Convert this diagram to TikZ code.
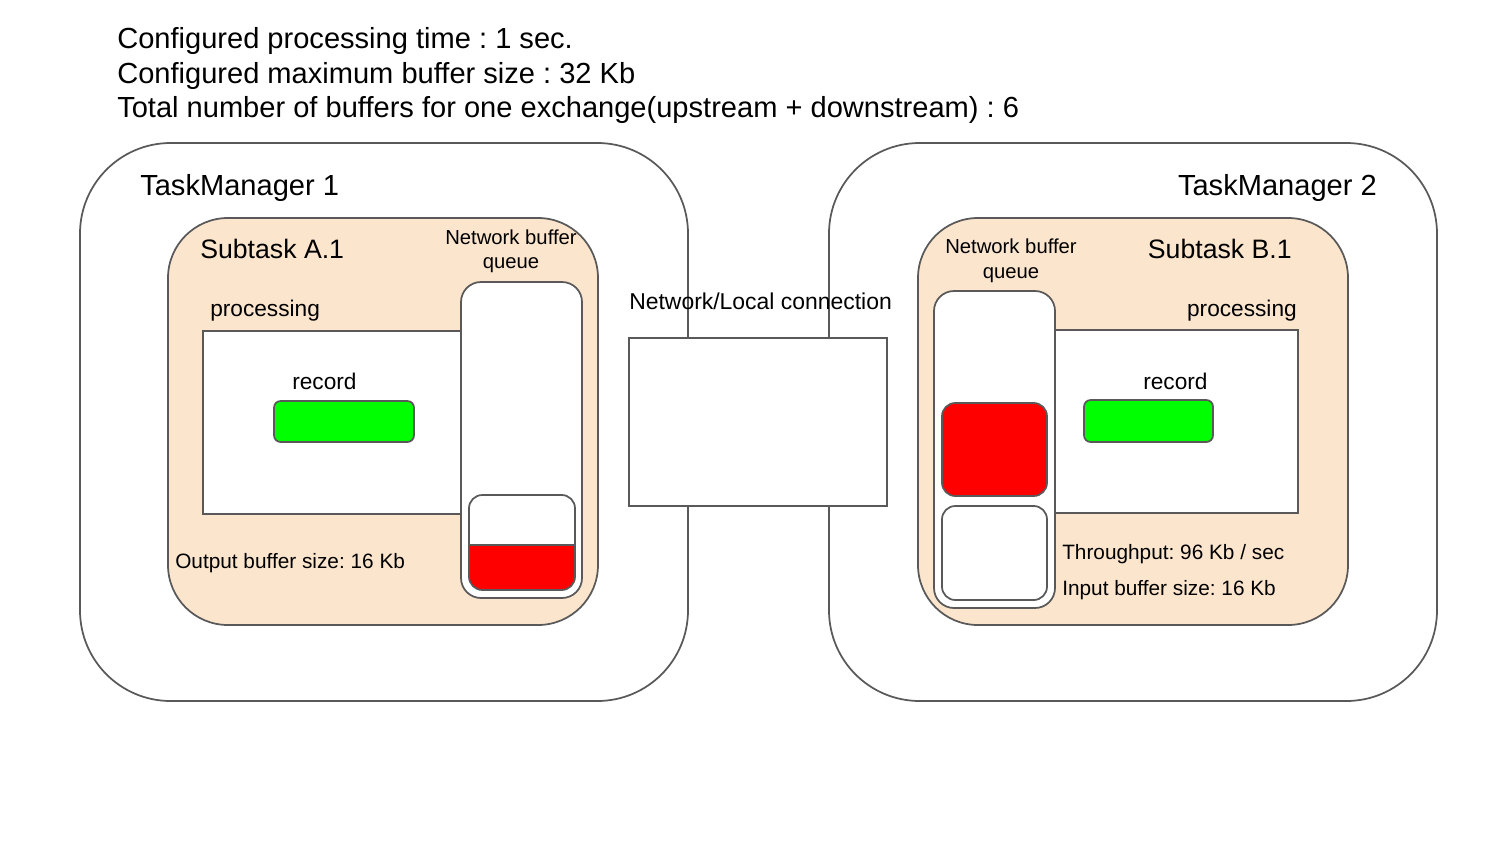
\documentclass[tikz,border=0pt]{standalone}
\usepackage{fontspec}
\setmainfont{Liberation Sans}
\frenchspacing
\definecolor{edge}{HTML}{595959}
\definecolor{peach}{HTML}{FCE5CD}
\definecolor{recgreen}{HTML}{00FF00}
\definecolor{bufred}{HTML}{FF0000}
\newcommand{\fs}[1]{\fontsize{#1}{#1}\selectfont}
\tikzset{
  tmbox/.style={draw=edge, line width=1.3pt, fill=white, rounded corners=68pt},
  subbox/.style={draw=edge, line width=1.3pt, fill=peach, rounded corners=45pt},
  procbox/.style={draw=edge, line width=1.3pt, fill=white},
  queuebox/.style={draw=edge, line width=1.3pt, fill=white, rounded corners=15pt},
  bufbox/.style={draw=edge, line width=1.3pt, rounded corners=10pt},
  recbox/.style={draw=edge, line width=1.3pt, fill=recgreen, rounded corners=5pt},
  connbox/.style={draw=edge, line width=1.3pt, fill=white},
  lbl/.style={inner sep=0pt, text=black},
}
\begin{document}
\begin{tikzpicture}[x=0.75pt, y=-0.75pt]
\useasboundingbox (0,0) rectangle (1500,844);
\fill[white] (0,0) rectangle (1500,844);

% header
\node[lbl, anchor=base west] (h1) at (117,48) {\fs{21.8}Configured processing time : 1 sec.};
\node[lbl, anchor=base west] (h2) at (117,83) {\fs{21.8}Configured maximum buffer size : 32 Kb};
\node[lbl, anchor=base west] (h3) at (117,117) {\fs{21.8}Total number of buffers for one exchange(upstream + downstream) : 6};

% TaskManagers
\draw[tmbox] (80,143) rectangle (688,701);
\draw[tmbox] (829,143) rectangle (1437,701);
\node[lbl, anchor=base west] (tm1) at (140,195) {\fs{21.8}TaskManager 1};
\node[lbl, anchor=base east] (tm2) at (1377,195) {\fs{21.8}TaskManager 2};

% Subtask A.1
\draw[subbox] (168,218) rectangle (598,625);
\node[lbl, anchor=base west] (sa) at (200,258) {\fs{20}Subtask A.1};
\node[lbl, anchor=base west] (pa) at (210,316) {\fs{17}processing};
\draw[procbox] (203,331) rectangle (470,514);
\node[lbl, anchor=base west] (ra) at (292,389) {\fs{17}record};
\draw[recbox] (274,401) rectangle (414,442);
\node[lbl, anchor=base west] (oa) at (175,568) {\fs{15.6}Output buffer size: 16 Kb};
\node[lbl, anchor=base] (qa1) at (511,244) {\fs{15.2}Network buffer};
\node[lbl, anchor=base] (qa2) at (511,268) {\fs{15.2}queue};
\draw[queuebox] (461,282) rectangle (582,598);
\begin{scope}
  \clip[rounded corners=10pt] (469,495) rectangle (575,590);
  \fill[white] (469,495) rectangle (575,590);
  \fill[bufred] (469,545) rectangle (575,590);
\end{scope}
\draw[edge, line width=1.3pt] (469,545) -- (575,545);
\draw[bufbox] (469,495) rectangle (575,590);

% Connection
\node[lbl, anchor=base west] (nl) at (629,309) {\fs{17.2}Network/Local connection};
\draw[connbox] (629,338) rectangle (887,506);

% Subtask B.1
\draw[subbox] (918,218) rectangle (1348,625);
\node[lbl, anchor=base east] (sb) at (1292,258) {\fs{20}Subtask B.1};
\node[lbl, anchor=base east] (pb) at (1297,316) {\fs{17}processing};
\draw[procbox] (1045,330) rectangle (1298,513);
\node[lbl, anchor=base west] (rb) at (1143,389) {\fs{17}record};
\draw[recbox] (1084,400) rectangle (1213,442);
\node[lbl, anchor=base west] (tb) at (1062,559) {\fs{15.6}Throughput: 96 Kb / sec};
\node[lbl, anchor=base west] (ib) at (1062,595) {\fs{15.6}Input buffer size: 16 Kb};
\node[lbl, anchor=base] (qb1) at (1011,253) {\fs{15.2}Network buffer};
\node[lbl, anchor=base] (qb2) at (1011,278) {\fs{15.2}queue};
\draw[queuebox] (934,291) rectangle (1055,608);
\draw[bufbox, fill=bufred] (942,403) rectangle (1047,496);
\draw[bufbox, fill=white] (942,506) rectangle (1047,600);
\end{tikzpicture}
\end{document}
